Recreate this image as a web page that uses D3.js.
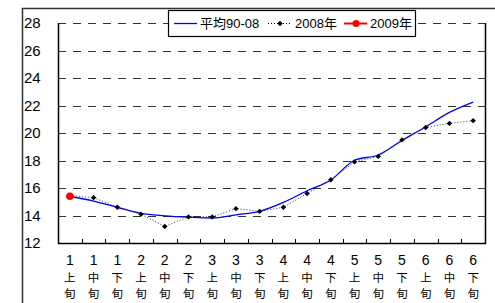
<!DOCTYPE html>
<html>
<head>
<meta charset="utf-8">
<script src="https://cdn.jsdelivr.net/npm/d3@7"></script>
<style>
  body { margin: 0; background: #fff; }
  svg { display: block; font-family: "Liberation Sans", Arial, sans-serif; }
</style>
</head>
<body>
<div id="chart"></div>
<script>
// categories: month number + 上/中/下 旬
const months = ["1","1","1","2","2","2","3","3","3","4","4","4","5","5","5","6","6","6"];
const periods = ["上","中","下","上","中","下","上","中","下","上","中","下","上","中","下","上","中","下"];
const avg9008 = [15.4, 15.05, 14.6, 14.15, 13.98, 13.88, 13.82, 14.05, 14.3, 14.95, 15.8, 16.58, 18.02, 18.4, 19.45, 20.45, 21.5, 22.25];
const y2008 = [15.45, 15.3, 14.6, 14.1, 13.2, 13.9, 13.9, 14.5, 14.3, 14.6, 15.6, 16.6, 17.9, 18.3, 19.5, 20.4, 20.7, 20.9];
const y2009 = [15.4];
const yTicks = [12, 14, 16, 18, 20, 22, 24, 26, 28];

const W = 495, H = 303;
const margin = {top: 23, right: 10, bottom: 60, left: 58};
const innerW = 485 - margin.left;
const innerH = 243 - margin.top;

const svg = d3.select("#chart").append("svg")
    .attr("width", W)
    .attr("height", H);

// outer chart frame (runs off the page on the right and bottom)
svg.append("rect")
    .attr("x", 22.5).attr("y", 8.5)
    .attr("width", 600).attr("height", 400)
    .attr("fill", "none")
    .attr("stroke", "#333")
    .attr("stroke-width", 1.5);

const g = svg.append("g")
    .attr("transform", "translate(" + margin.left + "," + margin.top + ")");

const idx = d3.range(months.length);
const x = d3.scaleBand().domain(idx).range([0, innerW]);
const xc = i => x(i) + x.bandwidth() / 2;
const y = d3.scaleLinear().domain([12, 28]).range([innerH, 0]);

// dashed gridlines
g.append("g")
    .selectAll("line")
    .data(yTicks.filter(d => d > 12))
    .enter().append("line")
    .attr("x1", 0).attr("x2", innerW)
    .attr("y1", d => Math.round(y(d)) + 0.5)
    .attr("y2", d => Math.round(y(d)) + 0.5)
    .attr("stroke", "#333")
    .attr("stroke-width", 1.2)
    .attr("stroke-dasharray", "8,7");

// y axis labels
g.append("g")
    .selectAll("text")
    .data(yTicks)
    .enter().append("text")
    .attr("x", -34)
    .attr("y", d => y(d))
    .attr("dy", "0.36em")
    .attr("font-size", 15)
    .attr("fill", "#000")
    .text(d => d);

// plot frame: left, bottom, right
g.append("path")
    .attr("d", "M0.5,0V" + (innerH + 0.5) + "H" + (innerW + 0.5) + "V0")
    .attr("fill", "none")
    .attr("stroke", "#000")
    .attr("stroke-width", 1.5);

// x tick marks between categories (pointing up)
g.append("g")
    .selectAll("line")
    .data(idx.slice(1))
    .enter().append("line")
    .attr("x1", d => Math.round(x(d)) + 0.5)
    .attr("x2", d => Math.round(x(d)) + 0.5)
    .attr("y1", innerH)
    .attr("y2", innerH - 4)
    .attr("stroke", "#000");

// x labels: month number, then 上/中/下, then 旬
const xl = g.append("g").selectAll("g")
    .data(idx)
    .enter().append("g")
    .attr("transform", d => "translate(" + xc(d) + "," + innerH + ")")
    .attr("text-anchor", "middle")
    .attr("fill", "#000");
xl.append("text").attr("y", 22).attr("font-size", 14).text(d => months[d]);
xl.append("text").attr("y", 38.5).text(d => periods[d]);
xl.append("text").attr("y", 55.3).text("旬");
xl.selectAll("text:not(:first-child)")
    .attr("font-size", 11.5)
    .attr("font-family", "'Noto Sans CJK JP', sans-serif");

// series
const line = d3.line().x((d, i) => xc(i)).y(d => y(d));

g.append("path")
    .datum(avg9008)
    .attr("d", line.curve(d3.curveMonotoneX))
    .attr("fill", "none")
    .attr("stroke", "#0000ff")
    .attr("stroke-width", 1.3);

g.append("path")
    .datum(y2008)
    .attr("d", line.curve(d3.curveLinear))
    .attr("fill", "none")
    .attr("stroke", "#333")
    .attr("stroke-width", 1)
    .attr("stroke-dasharray", "1,2");

const diamond = d3.symbol().type(d3.symbolSquare).size(15);
g.append("g")
    .selectAll("path")
    .data(y2008)
    .enter().append("path")
    .attr("d", diamond)
    .attr("transform", (d, i) => "translate(" + xc(i) + "," + y(d) + ") rotate(45)")
    .attr("fill", "#000");

g.append("g")
    .selectAll("circle")
    .data(y2009)
    .enter().append("circle")
    .attr("cx", (d, i) => xc(i))
    .attr("cy", d => y(d))
    .attr("r", 3.8)
    .attr("fill", "#ff0000");

// legend
const lg = svg.append("g").attr("transform", "translate(168,10)");
lg.append("rect")
    .attr("x", 0.5).attr("y", 0.5)
    .attr("width", 247).attr("height", 26)
    .attr("fill", "#fff")
    .attr("stroke", "#000")
    .attr("stroke-width", 1.2);
const ly = 13.5;
lg.append("line").attr("x1", 6).attr("x2", 29).attr("y1", ly).attr("y2", ly)
    .attr("stroke", "#0000ff").attr("stroke-width", 1.3);
lg.append("line").attr("x1", 100).attr("x2", 124).attr("y1", ly).attr("y2", ly)
    .attr("stroke", "#000").attr("stroke-dasharray", "1,2");
lg.append("path").attr("d", diamond).attr("transform", "translate(112," + ly + ") rotate(45)");
lg.append("line").attr("x1", 176).attr("x2", 199).attr("y1", ly).attr("y2", ly)
    .attr("stroke", "#ff0000").attr("stroke-width", 2);
lg.append("circle").attr("cx", 188).attr("cy", ly).attr("r", 3.5).attr("fill", "#ff0000");
const legendText = [["平均90-08", 32], ["2008年", 127], ["2009年", 202]];
lg.selectAll("text.lt")
    .data(legendText)
    .enter().append("text")
    .attr("class", "lt")
    .attr("x", d => d[1])
    .attr("y", ly)
    .attr("dy", "0.36em")
    .attr("font-size", 13)
    .attr("font-family", "'Liberation Sans', 'Noto Sans CJK JP', sans-serif")
    .text(d => d[0]);
</script>
</body>
</html>
